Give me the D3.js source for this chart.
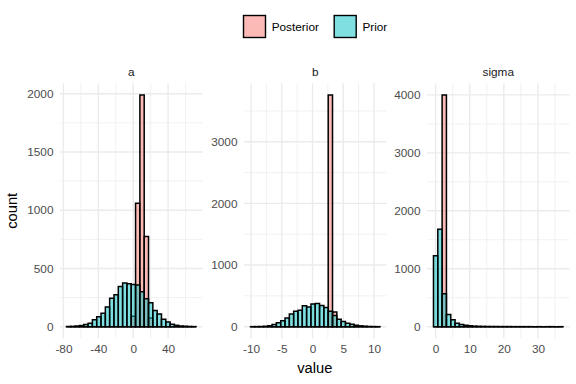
<!DOCTYPE html>
<html>
<head>
<meta charset="utf-8">
<script src="https://cdn.jsdelivr.net/npm/d3@7"></script>
<style>
  body { margin: 0; background: #fff; }
  svg { font-family: "Liberation Sans", Arial, sans-serif; }
</style>
</head>
<body>
<div id="chart"></div>
<script>
// facets and their histogram bins (30 bins each, shared by both groups)
var panelNames = ['a', 'b', 'sigma'];
var binStart = [-76.5, -10.1, -0.63];
var binWidth = [4.95, 0.703, 1.266];

var groups = ['Posterior', 'Prior'];

// counts per bin
var priorA = [2, 3, 6, 10, 18, 30, 60, 85, 115, 170, 245, 275, 345, 375, 368,
              362, 358, 300, 240, 205, 140, 110, 65, 40, 22, 12, 6, 4, 2, 1];
var posteriorA = [0, 0, 0, 0, 0, 0, 0, 0, 0, 0, 0, 0, 0, 0, 0,
                  90, 1060, 1990, 775, 75, 0, 0, 0, 0, 0, 0, 0, 0, 0, 0];

var priorB = [1, 2, 3, 7, 15, 35, 65, 95, 140, 205, 250, 268, 340, 320, 368,
              375, 345, 310, 250, 180, 120, 85, 55, 38, 25, 14, 8, 4, 2, 1];
var posteriorB = [0, 0, 0, 0, 0, 0, 0, 0, 0, 0, 0, 0, 0, 0, 0,
                  0, 0, 0, 3760, 240, 0, 0, 0, 0, 0, 0, 0, 0, 0, 0];

var priorSigma = [1225, 1680, 570, 210, 120, 60, 38, 25, 16, 10, 7, 5, 4, 3, 3,
                  2, 2, 2, 1, 1, 1, 1, 1, 0, 1, 0, 1, 1, 0, 1];
var posteriorSigma = [0, 0, 4000, 0, 0, 0, 0, 0, 0, 0, 0, 0, 0, 0, 0,
                      0, 0, 0, 0, 0, 0, 0, 0, 0, 0, 0, 0, 0, 0, 0];

// axis breaks
var xTicks = [[-80, -40, 0, 40], [-10, -5, 0, 5, 10], [0, 10, 20, 30]];
var yTicks = [[0, 500, 1000, 1500, 2000], [0, 1000, 2000, 3000], [0, 1000, 2000, 3000, 4000]];

var priors = [priorA, priorB, priorSigma];
var posteriors = [posteriorA, posteriorB, posteriorSigma];

var width = 576, height = 384;
var panelLeft = [60, 244, 427];
var panelW = 142.5;
var panelTop = 83.3, panelBottom = 338.3;

var color = d3.scaleOrdinal().domain(groups).range(['#F8766D', '#00BFC4']);
var plainNum = function(d) { return String(d); };

var svg = d3.select('#chart').append('svg')
    .attr('width', width)
    .attr('height', height);

// minor breaks halfway between majors, one extra on each side
function minorBreaks(major, domain) {
  var step = major[1] - major[0];
  var out = [];
  for (var v = major[0] - step / 2; v <= major[major.length - 1] + step / 2; v += step) {
    if (v >= domain[0] && v <= domain[1]) out.push(v);
  }
  return out;
}

function barPath(x, y) {
  return function(d) {
    var l = x(d.x0), r = x(d.x1), t = y(d.count), b = y(0);
    return 'M' + l + ',' + b + 'V' + t + 'H' + r + 'V' + b + 'Z';
  };
}

panelNames.forEach(function(name, i) {
  var n = priors[i].length;
  var lo = binStart[i], hi = binStart[i] + n * binWidth[i];
  var padX = (hi - lo) * 0.05;
  var x = d3.scaleLinear()
      .domain([lo - padX, hi + padX])
      .range([panelLeft[i], panelLeft[i] + panelW]);

  var ymax = d3.max(priors[i].concat(posteriors[i]));
  var y = d3.scaleLinear()
      .domain([-0.05 * ymax, 1.05 * ymax])
      .range([panelBottom, panelTop]);

  var g = svg.append('g').attr('class', 'panel panel-' + name);

  // grid
  var grid = g.append('g').attr('class', 'grid');
  grid.selectAll('line.xminor')
    .data(minorBreaks(xTicks[i], x.domain()))
    .enter().append('line')
      .attr('x1', x).attr('x2', x)
      .attr('y1', panelTop).attr('y2', panelBottom)
      .attr('stroke', '#EBEBEB').attr('stroke-width', 0.7);
  grid.selectAll('line.yminor')
    .data(minorBreaks(yTicks[i], y.domain()))
    .enter().append('line')
      .attr('y1', y).attr('y2', y)
      .attr('x1', panelLeft[i]).attr('x2', panelLeft[i] + panelW)
      .attr('stroke', '#EBEBEB').attr('stroke-width', 0.7);
  grid.selectAll('line.xmajor')
    .data(xTicks[i])
    .enter().append('line')
      .attr('x1', x).attr('x2', x)
      .attr('y1', panelTop).attr('y2', panelBottom)
      .attr('stroke', '#EBEBEB').attr('stroke-width', 1.4);
  grid.selectAll('line.ymajor')
    .data(yTicks[i])
    .enter().append('line')
      .attr('y1', y).attr('y2', y)
      .attr('x1', panelLeft[i]).attr('x2', panelLeft[i] + panelW)
      .attr('stroke', '#EBEBEB').attr('stroke-width', 1.4);

  // bars: posterior first, prior drawn on top
  [posteriors[i], priors[i]].forEach(function(counts, gi) {
    var bins = counts.map(function(c, k) {
      return { x0: lo + k * binWidth[i], x1: lo + (k + 1) * binWidth[i], count: c };
    });
    g.append('g').selectAll('path')
      .data(bins)
      .enter().append('path')
        .attr('d', barPath(x, y))
        .attr('fill', color(groups[gi]))
        .attr('fill-opacity', 0.5)
        .attr('stroke', '#000')
        .attr('stroke-width', 1.5);
  });

  // axes
  var xAxis = g.append('g')
      .attr('transform', 'translate(0,' + panelBottom + ')')
      .call(d3.axisBottom(x).tickValues(xTicks[i]).tickFormat(plainNum).tickSize(0).tickPadding(6.5));
  var yAxis = g.append('g')
      .attr('transform', 'translate(' + panelLeft[i] + ',0)')
      .call(d3.axisLeft(y).tickValues(yTicks[i]).tickFormat(plainNum).tickSize(0).tickPadding(6.5));
  [xAxis, yAxis].forEach(function(ax) {
    ax.select('.domain').remove();
    ax.selectAll('text')
      .attr('fill', '#4D4D4D')
      .style('font-size', '11.8px')
      .style('font-family', '"Liberation Sans", Arial, sans-serif');
  });

  // strip label
  g.append('text')
    .attr('x', panelLeft[i] + panelW / 2)
    .attr('y', 75.5)
    .attr('text-anchor', 'middle')
    .attr('fill', '#1A1A1A')
    .style('font-size', '11.8px')
    .text(name);
});

// axis titles
svg.append('text')
  .attr('x', (panelLeft[0] + panelLeft[2] + panelW) / 2)
  .attr('y', 373)
  .attr('text-anchor', 'middle')
  .style('font-size', '14.7px')
  .text('value');

svg.append('text')
  .attr('transform', 'translate(17.3,' + (panelTop + panelBottom) / 2 + ') rotate(-90)')
  .attr('text-anchor', 'middle')
  .style('font-size', '14.7px')
  .text('count');

// legend
var legendX = [243.5, 334.2];
var legend = svg.append('g').attr('class', 'legend');
groups.forEach(function(grp, k) {
  legend.append('rect')
    .attr('x', legendX[k]).attr('y', 15.5)
    .attr('width', 22).attr('height', 22)
    .attr('fill', color(grp))
    .attr('fill-opacity', 0.5)
    .attr('stroke', '#000')
    .attr('stroke-width', 1.4);
  legend.append('text')
    .attr('x', legendX[k] + 28.2)
    .attr('y', 30.8)
    .style('font-size', '11.8px')
    .text(grp);
});
</script>
</body>
</html>
